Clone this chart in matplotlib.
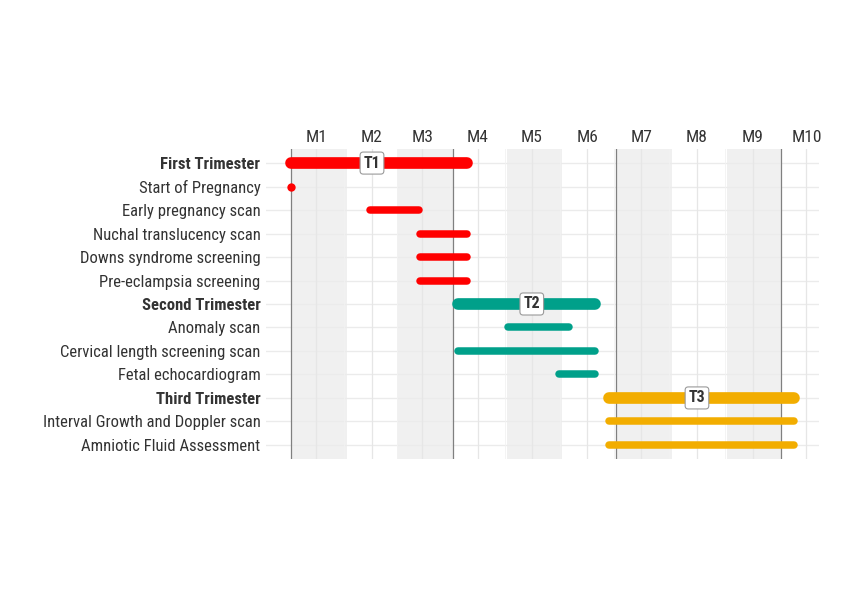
import matplotlib
matplotlib.use("Agg")
import matplotlib.pyplot as plt

# pregnancy timeline, x in days from start of pregnancy (1 Jan, non-leap year)
tasks = ["First Trimester", "Start of Pregnancy", "Early pregnancy scan",
         "Nuchal translucency scan", "Downs syndrome screening",
         "Pre-eclampsia screening", "Second Trimester", "Anomaly scan",
         "Cervical length screening scan", "Fetal echocardiogram",
         "Third Trimester", "Interval Growth and Doppler scan",
         "Amniotic Fluid Assessment"]
start_day = [0, 0, 44, 72, 72, 72, 93, 121, 93, 149, 177, 177, 177]
end_day = [98, 0, 71, 98, 98, 98, 169, 155, 169, 169, 280, 280, 280]
trimester = [1, 1, 1, 1, 1, 1, 2, 2, 2, 2, 3, 3, 3]
is_header = [True, False, False, False, False, False, True, False, False,
             False, True, False, False]

tri_names = ["T1", "T2", "T3"]
tri_label_day = [45, 134, 226]
tri_colors = {1: "#FF0000", 2: "#00A08A", 3: "#F2AD00"}

month_labels = ["M1", "M2", "M3", "M4", "M5", "M6", "M7", "M8", "M9", "M10"]
month_mid = [14, 45, 73, 104, 134, 165, 195, 226, 257, 287]
month_start = [0, 31, 59, 90, 120, 151, 181, 212, 243, 273, 304]
quarter_lines = [0, 90, 181, 273]

plt.rcParams["font.family"] = ["Roboto Condensed", "Roboto", "DejaVu Sans"]

fig = plt.figure(figsize=(8.5, 6), dpi=100)
ax = fig.add_axes([0.313, 0.235, 0.6506, 0.5167])

# alternating month shading
for i in range(0, len(month_start) - 1, 2):
    if month_start[i + 1] <= 280:
        ax.axvspan(month_start[i], month_start[i + 1], color="#F0F0F0", lw=0, zorder=0)

# grid
for y in range(len(tasks)):
    ax.axhline(y, color="#EBEBEB", lw=1, zorder=1)
for x in month_mid:
    ax.axvline(x, color="#E6E6E6", lw=0.9, zorder=1)
for a, b in zip(month_mid[:-1], month_mid[1:]):
    ax.axvline((a + b) / 2, color="#F2F2F2", lw=0.6, zorder=1)
for x in quarter_lines:
    ax.axvline(x, color="#808080", lw=0.9, zorder=2)

# bars
for i in range(len(tasks)):
    c = tri_colors[trimester[i]]
    if start_day[i] == end_day[i]:
        ax.plot(start_day[i], i, "o", color=c, ms=6, mew=0, zorder=4)
    elif is_header[i]:
        ax.plot([start_day[i], end_day[i]], [i, i], color=c, lw=8.4,
                solid_capstyle="round", zorder=4)
    else:
        ax.plot([start_day[i], end_day[i]], [i, i], color=c, lw=5.4,
                solid_capstyle="round", zorder=4)

# trimester labels
header_rows = [i for i in range(len(tasks)) if is_header[i]]
for name, xd, row in zip(tri_names, tri_label_day, header_rows):
    ax.text(xd, row, name, ha="center", va="center", fontsize=11.5,
            fontweight="bold", color="#333333", zorder=5,
            bbox=dict(boxstyle="round,pad=0.22,rounding_size=0.2",
                      fc="white", ec="#999999", lw=0.8))

ax.set_xlim(-14, 294)
ax.set_ylim(len(tasks) - 0.4, -0.6)

ax.xaxis.tick_top()
ax.set_xticks(month_mid)
ax.set_xticklabels(month_labels, fontsize=12.5, color="#333333")
ax.set_yticks(range(len(tasks)))
ax.set_yticklabels(tasks, fontsize=12, color="#333333")
for lbl, hdr in zip(ax.get_yticklabels(), is_header):
    if hdr:
        lbl.set_fontweight("bold")
ax.tick_params(axis="both", length=0)
ax.tick_params(axis="x", pad=3)
ax.tick_params(axis="y", pad=4)
for s in ax.spines.values():
    s.set_visible(False)

fig.savefig("out.png", dpi=100, facecolor="white")
